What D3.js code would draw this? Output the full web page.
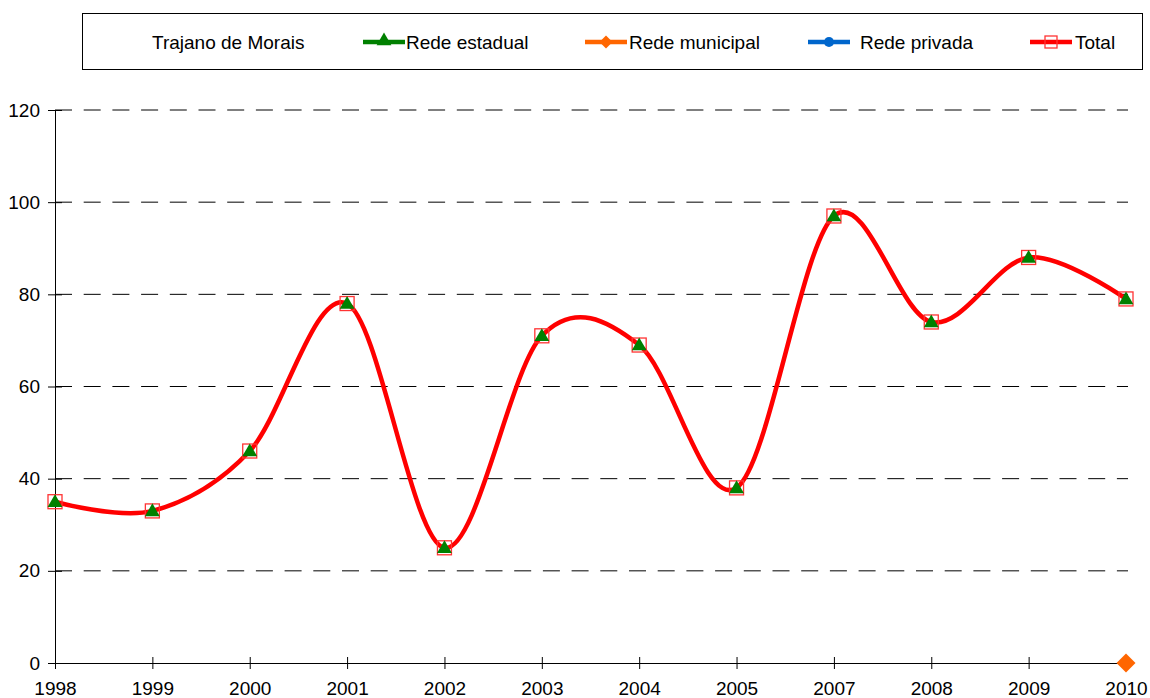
<!DOCTYPE html>
<html><head><meta charset="utf-8">
<script src="https://cdn.jsdelivr.net/npm/d3@7"></script>
<style>body{margin:0;background:#fff;} text{font-family:"Liberation Sans",Arial,sans-serif;}</style>
</head><body><svg id="c" width="1150" height="698"></svg>
<script>
const years = ["1998","1999","2000","2001","2002","2003","2004","2005","2007","2008","2009","2010"];
const estadual = [35,33,46,78,25,71,69,38,97,74,88,79];
const municipal = [null,null,null,null,null,null,null,null,null,null,null,0];
const privada = [null,null,null,null,null,null,null,null,null,null,null,null];
const total = [35,33,46,78,25,71,69,38,97,74,88,79];
const yTicks = [0,20,40,60,80,100,120];
const legendTitle = "Trajano de Morais";
const seriesNames = ["Rede estadual","Rede municipal","Rede privada","Total"];

const FS = "19px";
const svg = d3.select("#c");
const x = d3.scalePoint().domain(years).range([55,1126]);
const y = d3.scaleLinear().domain([0,120]).range([663,110]);

// grid
svg.append("g").selectAll("line").data(yTicks.filter(d=>d>0)).join("line")
  .attr("x1",55).attr("x2",1128).attr("y1",d=>y(d)).attr("y2",d=>y(d))
  .attr("stroke","#000").attr("stroke-width",1).attr("stroke-dasharray","17,11.7");

// y axis
const ya = svg.append("g").attr("transform","translate(55,0)")
  .call(d3.axisLeft(y).tickValues(yTicks).tickSize(7).tickSizeOuter(0).tickPadding(8));
ya.select(".domain").attr("stroke","#000");
ya.selectAll(".tick line").attr("x2",-7).attr("x1",7);
ya.selectAll("text").attr("font-size",FS).attr("fill","#000").attr("font-family","Liberation Sans, Arial, sans-serif");

// x axis
const xa = svg.append("g").attr("transform","translate(0,663)")
  .call(d3.axisBottom(x).tickSize(6).tickSizeOuter(0).tickPadding(13));
xa.select(".domain").attr("stroke","#000");
xa.selectAll(".tick line").attr("y1",-6).attr("y2",6);
xa.selectAll("text").attr("font-size",FS).attr("fill","#000").attr("font-family","Liberation Sans, Arial, sans-serif");

const curve = d3.curveCardinal.tension(0);
const line = d3.line().defined(d=>d[1]!=null).x(d=>x(d[0])).y(d=>y(d[1])).curve(curve);

const tri = d3.symbol().type(d3.symbolTriangle).size(95);
const sqDiamond = (h)=>`M0,${-h}L${h},0L0,${h}L${-h},0Z`;
const circ = d3.symbol().type(d3.symbolCircle).size(80);

function pairs(arr){ return years.map((yr,i)=>[yr,arr[i]]); }

// total line
svg.append("path").datum(pairs(total)).attr("d",line)
  .attr("fill","none").attr("stroke","#ff0000").attr("stroke-width",4.5);
// total squares
svg.append("g").selectAll("rect").data(pairs(total).filter(d=>d[1]!=null)).join("rect")
  .attr("x",d=>x(d[0])-7).attr("y",d=>y(d[1])-7).attr("width",14).attr("height",14)
  .attr("fill","none").attr("stroke","#ff3333").attr("stroke-width",1.3);
// estadual triangles
svg.append("g").selectAll("path").data(pairs(estadual).filter(d=>d[1]!=null)).join("path")
  .attr("d",tri).attr("transform",d=>`translate(${x(d[0])},${y(d[1])+1})`).attr("fill","#008000");
// municipal diamonds
svg.append("g").selectAll("path").data(pairs(municipal).filter(d=>d[1]!=null)).join("path")
  .attr("d",sqDiamond(9.5)).attr("transform",d=>`translate(${x(d[0])},${y(d[1])})`).attr("fill","#ff6600");
// privada circles
svg.append("g").selectAll("path").data(pairs(privada).filter(d=>d[1]!=null)).join("path")
  .attr("d",circ).attr("transform",d=>`translate(${x(d[0])},${y(d[1])})`).attr("fill","#0066cc");

// legend
const lg = svg.append("g");
lg.append("rect").attr("x",82.5).attr("y",13.5).attr("width",1060).attr("height",56)
  .attr("fill","#fff").attr("stroke","#000").attr("stroke-width",1);
lg.append("text").attr("x",152).attr("y",49).attr("font-size",FS).text(legendTitle);
const items = [
  {name:seriesNames[0], color:"#008000", x0:363, tx:406, m:"tri"},
  {name:seriesNames[1], color:"#ff6600", x0:585, tx:629, m:"dia"},
  {name:seriesNames[2], color:"#0066cc", x0:808, tx:860, m:"circ"},
  {name:seriesNames[3], color:"#ff0000", x0:1030, tx:1075, m:"sq"}
];
items.forEach(it=>{
  const cy = 42;
  lg.append("line").attr("x1",it.x0).attr("x2",it.x0+42).attr("y1",cy).attr("y2",cy)
    .attr("stroke",it.color).attr("stroke-width",4.5);
  const cx = it.x0+21;
  if(it.m==="tri") lg.append("path").attr("d",tri).attr("transform",`translate(${cx},${cy-1})`).attr("fill",it.color);
  if(it.m==="dia") lg.append("path").attr("d",sqDiamond(6.5)).attr("transform",`translate(${cx},${cy})`).attr("fill",it.color);
  if(it.m==="circ") lg.append("path").attr("d",circ).attr("transform",`translate(${cx},${cy})`).attr("fill",it.color);
  if(it.m==="sq") lg.append("rect").attr("x",cx-6).attr("y",cy-6).attr("width",12).attr("height",12).attr("fill","none").attr("stroke","#ff3333").attr("stroke-width",1.3);
  lg.append("text").attr("x",it.tx).attr("y",49).attr("font-size",FS).text(it.name);
});
</script></body></html>
